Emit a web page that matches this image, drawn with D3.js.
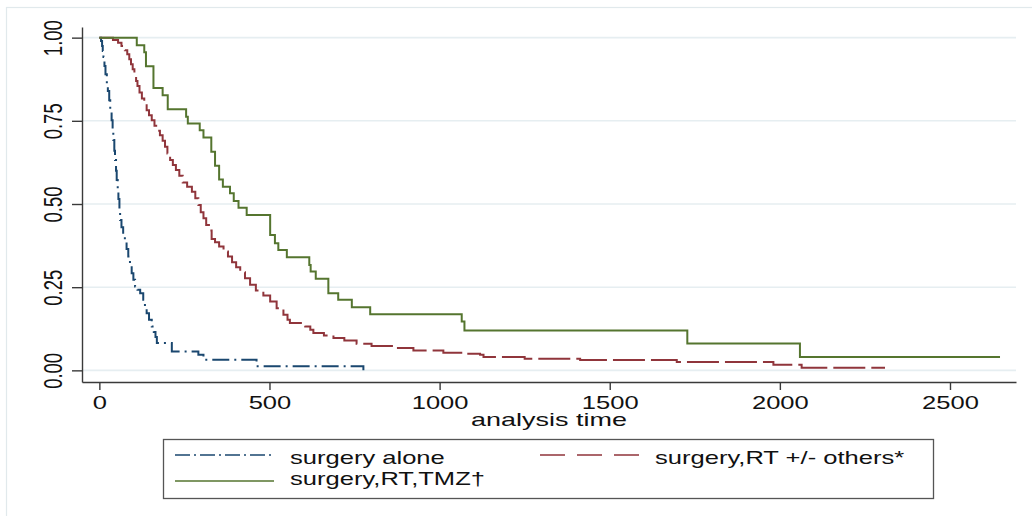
<!DOCTYPE html>
<html>
<head>
<meta charset="utf-8">
<script src="https://cdn.jsdelivr.net/npm/d3@7"></script>
<style>
  body { margin: 0; background: #fff; }
  svg text { font-family: "Liberation Sans", Arial, sans-serif; fill: #111; }
</style>
</head>
<body>
<svg id="chart" width="1032" height="516"></svg>
<script>
// Kaplan-Meier steps: [analysis time, survival]
const aloneSteps = [[0,1],[5,0.99],[8,0.975],[10,0.96],[12,0.942],[15,0.915],[18,0.89],[22,0.862],
  [25,0.84],[29,0.812],[32,0.785],[36,0.752],[39,0.72],[41,0.692],[44,0.66],[46,0.632],[49,0.6],
  [51,0.572],[54,0.545],[56,0.515],[59,0.485],[61,0.452],[65,0.43],[70,0.41],[75,0.392],[80,0.365],
  [85,0.342],[90,0.318],[95,0.292],[100,0.272],[105,0.252],[112,0.242],[120,0.232],[129,0.212],
  [134,0.19],[139,0.172],[146,0.152],[154,0.132],[160,0.115],[165,0.1],[169,0.082],[213,0.057],
  [291,0.047],[306,0.032],[462,0.012],[776,0]];
const aloneEnd = 776;

const rtSteps = [[0,1],[40,0.993],[55,0.985],[65,0.975],[75,0.962],[82,0.95],[88,0.935],[93,0.92],
  [98,0.905],[103,0.89],[108,0.87],[112,0.855],[118,0.835],[125,0.817],[132,0.8],[139,0.782],
  [146,0.767],[154,0.752],[162,0.735],[170,0.72],[178,0.707],[186,0.69],[193,0.672],[200,0.652],
  [208,0.632],[216,0.617],[225,0.602],[235,0.585],[245,0.565],[258,0.552],[272,0.537],[282,0.517],
  [291,0.497],[298,0.475],[306,0.457],[314,0.437],[322,0.42],[330,0.395],[340,0.385],[352,0.372],
  [365,0.357],[378,0.342],[390,0.325],[402,0.31],[414,0.295],[428,0.277],[443,0.257],[460,0.24],
  [482,0.225],[502,0.207],[521,0.187],[541,0.167],[553,0.152],[560,0.142],[605,0.132],[620,0.122],
  [629,0.112],[660,0.105],[688,0.097],[720,0.09],[756,0.08],[800,0.073],[864,0.067],[923,0.06],
  [1011,0.053],[1080,0.05],[1119,0.047],[1129,0.04],[1250,0.035],[1413,0.031],[1697,0.025],
  [1981,0.017],[2064,0.008]];
const rtEnd = 2309;

const tmzSteps = [[0,1],[110,0.977],[132,0.956],[137,0.914],[159,0.849],[186,0.827],[201,0.785],
  [255,0.762],[260,0.742],[295,0.722],[306,0.7],[329,0.657],[340,0.615],[352,0.574],[363,0.552],
  [384,0.532],[395,0.509],[409,0.489],[433,0.467],[502,0.407],[516,0.382],[526,0.362],[551,0.34],
  [617,0.317],[621,0.297],[636,0.275],[673,0.232],[702,0.212],[742,0.19],[796,0.169],[1065,0.147],
  [1073,0.12],[1728,0.081],[2059,0.04]];
const tmzEnd = 2647;

const xTicks = [0, 500, 1000, 1500, 2000, 2500];
const yTicks = [0, 0.25, 0.5, 0.75, 1];
const seriesNames = ["surgery alone", "surgery,RT +/- others*", "surgery,RT,TMZ\u2020"];
const xTitle = "analysis time";

const svg = d3.select("#chart");
const stretch = 1.42; // the picture is wider than tall, glyphs too

// outer graph region edge
svg.append("rect")
    .attr("x", 6.5).attr("y", 7.5).attr("width", 1040).attr("height", 520)
    .attr("fill", "none").attr("stroke", "#e1e9ec").attr("stroke-width", 1.2);

let x = d3.scaleLinear().domain([-51, 2694]).range([82, 1016]);
let y = d3.scaleLinear().domain([-0.035, 1.032]).range([382, 27]);

// grid
svg.append("g")
    .selectAll("line")
    .data(yTicks)
    .enter()
    .append("line")
    .attr("x1", 83).attr("x2", 1016)
    .attr("y1", d => y(d)).attr("y2", d => y(d))
    .attr("stroke", "#e6eef1")
    .attr("stroke-width", 1.6);

// axes
let yAxis = svg.append("g")
    .attr("transform", "translate(82,0)")
    .call(d3.axisLeft(y).tickValues(yTicks).tickFormat(d3.format(".2f")).tickSize(10).tickSizeOuter(0));
yAxis.selectAll("text")
    .attr("x", null).attr("dy", null)
    .attr("text-anchor", "middle")
    .attr("font-size", 18.5)
    .attr("transform", function(d){ return "translate(-20,0) scale(" + stretch + ",1) rotate(-90)"; });

let xAxis = svg.append("g")
    .attr("transform", "translate(0,382)")
    .call(d3.axisBottom(x).tickValues(xTicks).tickFormat(d3.format("d")).tickSize(8).tickSizeOuter(0));
xAxis.selectAll("text")
    .attr("y", null).attr("dy", null)
    .attr("font-size", 18)
    .attr("transform", "translate(0,26.5) scale(" + stretch + ",1)");

svg.selectAll(".domain, .tick line")
    .attr("stroke", "#3a3a3a")
    .attr("stroke-width", 1.4);

svg.append("text")
    .attr("transform", "translate(549,425.5) scale(" + stretch + ",1)")
    .attr("text-anchor", "middle")
    .attr("font-size", 19)
    .text(xTitle);

// curves
let km = d3.line()
    .x(d => x(d[0]))
    .y(d => y(d[1]))
    .curve(d3.curveStepAfter);

function withEnd(steps, end) {
    let last = steps[steps.length - 1];
    return last[0] < end ? steps.concat([[end, last[1]]]) : steps;
}

const series = [
    {steps: withEnd(aloneSteps, aloneEnd), color: "#1a476f", dash: "17,5,2,5", legDash: "15,4,2,4"},
    {steps: withEnd(rtSteps, rtEnd), color: "#90353b", dash: "32,6", legDash: "25,12"},
    {steps: withEnd(tmzSteps, tmzEnd), color: "#55752f", dash: null, legDash: null}
];

svg.append("g")
    .selectAll("path")
    .data(series)
    .enter()
    .append("path")
    .attr("d", d => km(d.steps))
    .attr("fill", "none")
    .attr("stroke", d => d.color)
    .attr("stroke-width", 2)
    .attr("stroke-dasharray", d => d.dash);

// legend
let legend = svg.append("g");
legend.append("rect")
    .attr("x", 163.5).attr("y", 439.5).attr("width", 770).attr("height", 59)
    .attr("fill", "#fff").attr("stroke", "#555").attr("stroke-width", 1.3);

const legPos = [[175, 455, 290, 463.5], [540, 455, 655, 463.5], [175, 481, 290, 484.5]];

let items = legend.selectAll("g.item")
    .data(series)
    .enter()
    .append("g")
    .attr("class", "item");

items.append("line")
    .attr("x1", (d, i) => legPos[i][0])
    .attr("x2", (d, i) => legPos[i][0] + 99)
    .attr("y1", (d, i) => legPos[i][1])
    .attr("y2", (d, i) => legPos[i][1])
    .attr("stroke", d => d.color)
    .attr("stroke-width", 1.6)
    .attr("stroke-dasharray", d => d.legDash);

items.append("text")
    .attr("transform", (d, i) => "translate(" + legPos[i][2] + "," + legPos[i][3] + ") scale(" + stretch + ",1)")
    .attr("font-size", 18)
    .text((d, i) => seriesNames[i]);
</script>
</body>
</html>
